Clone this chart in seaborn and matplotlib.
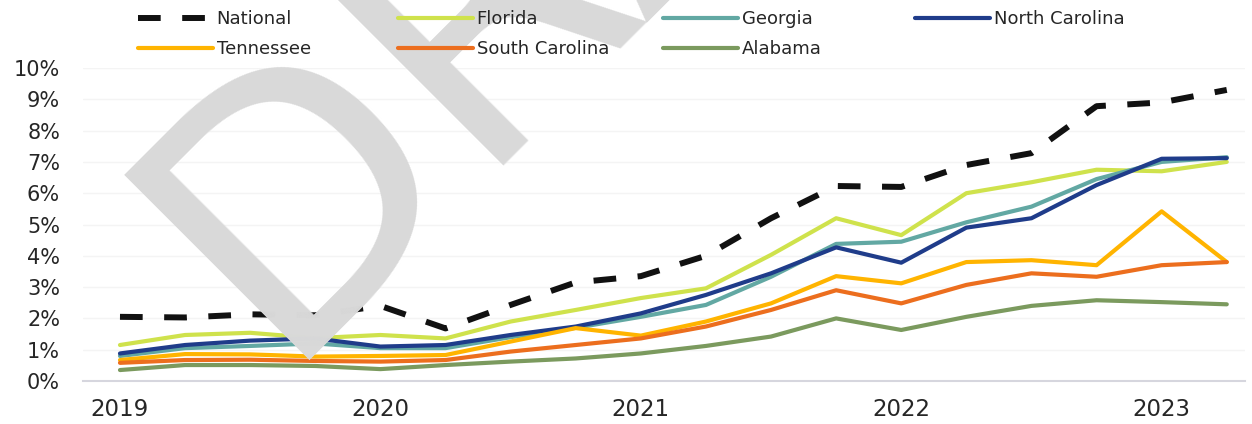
import matplotlib
matplotlib.use("Agg")
import matplotlib.pyplot as plt
import seaborn as sns
import numpy as np
import pandas as pd

# ---------------- data ----------------
quarters = ["2019Q1", "2019Q2", "2019Q3", "2019Q4",
            "2020Q1", "2020Q2", "2020Q3", "2020Q4",
            "2021Q1", "2021Q2", "2021Q3", "2021Q4",
            "2022Q1", "2022Q2", "2022Q3", "2022Q4",
            "2023Q1", "2023Q2"]
year_labels = ["2019", "2020", "2021", "2022", "2023"]

national = [2.05, 2.03, 2.13, 2.10, 2.40, 1.68, 2.43, 3.15, 3.35, 4.00, 5.20, 6.23, 6.20, 6.90, 7.28, 8.78, 8.90, 9.30]
florida = [1.15, 1.47, 1.54, 1.37, 1.47, 1.36, 1.90, 2.27, 2.65, 2.96, 4.03, 5.20, 4.66, 6.00, 6.35, 6.75, 6.70, 7.00]
georgia = [0.80, 1.05, 1.12, 1.20, 1.05, 1.05, 1.40, 1.70, 2.05, 2.43, 3.33, 4.38, 4.45, 5.07, 5.57, 6.45, 7.00, 7.15]
north_carolina = [0.88, 1.15, 1.29, 1.36, 1.10, 1.15, 1.47, 1.74, 2.16, 2.75, 3.44, 4.27, 3.78, 4.90, 5.20, 6.26, 7.10, 7.12]
tennessee = [0.67, 0.86, 0.85, 0.78, 0.80, 0.83, 1.26, 1.69, 1.45, 1.90, 2.48, 3.35, 3.12, 3.80, 3.86, 3.70, 5.42, 3.80]
south_carolina = [0.58, 0.67, 0.68, 0.64, 0.62, 0.67, 0.94, 1.15, 1.36, 1.74, 2.27, 2.90, 2.48, 3.07, 3.44, 3.33, 3.70, 3.80]
alabama = [0.35, 0.51, 0.51, 0.48, 0.38, 0.51, 0.62, 0.72, 0.88, 1.12, 1.42, 2.00, 1.63, 2.05, 2.40, 2.58, 2.52, 2.45]

series_names = ["National", "Florida", "Georgia", "North Carolina",
                "Tennessee", "South Carolina", "Alabama"]
series_values = [national, florida, georgia, north_carolina,
                 tennessee, south_carolina, alabama]
colors = {"National": "#111111", "Florida": "#cfe24c", "Georgia": "#62a8a3",
          "North Carolina": "#1f3c8a", "Tennessee": "#ffb400",
          "South Carolina": "#ec6e1e", "Alabama": "#7b9a5e"}

rows = []
for name, vals in zip(series_names, series_values):
    for i, v in enumerate(vals):
        rows.append({"series": name, "q": i, "quarter": quarters[i], "value": v})
df = pd.DataFrame(rows)

# ---------------- figure ----------------
sns.set_theme(style="white")
plt.rcParams["font.family"] = ["DejaVu Sans"]
text_color = "#262626"

W, H = 1252, 424
fig = plt.figure(figsize=(W / 100, H / 100), dpi=100)
fig.patch.set_facecolor("white")

# watermark
fig.text(275 / W, 1 - 360 / H, "DRAFT", rotation=45, rotation_mode="anchor",
         ha="left", va="baseline", fontsize=258, color="#d9d9d9", zorder=0)

ax_l, ax_r, ax_t, ax_b = 83, 1245, 68, 381
ax = fig.add_axes([ax_l / W, 1 - ax_b / H, (ax_r - ax_l) / W, (ax_b - ax_t) / H])
ax.patch.set_alpha(0)

draw_order = ["Florida", "Georgia", "North Carolina", "Tennessee",
              "South Carolina", "Alabama", "National"]
for name in draw_order:
    sub = df[df["series"] == name]
    if name == "National":
        sns.lineplot(data=sub, x="q", y="value", ax=ax, color=colors[name],
                     lw=4.3, linestyle=(0, (3.8, 3.6)), label=name, zorder=5)
    else:
        sns.lineplot(data=sub, x="q", y="value", ax=ax, color=colors[name],
                     lw=3.0, label=name, zorder=3)

leg = ax.get_legend()
if leg is not None:
    leg.remove()

ax.set_xlim(-0.568, 17.28)
ax.set_ylim(0, 10)
ax.set_yticks(np.arange(0, 11, 1))
ax.set_yticklabels([f"{v}%" for v in range(0, 11)])
ax.set_xticks([0, 4, 8, 12, 16])
ax.set_xticklabels(year_labels)
ax.set_xlabel("")
ax.set_ylabel("")
ax.tick_params(axis="y", length=0, pad=16.5, labelsize=15, labelcolor=text_color)
ax.tick_params(axis="x", length=0, pad=12, labelsize=16.5, labelcolor=text_color)
ax.grid(axis="y", color="#f4f4f4", lw=1)
ax.grid(axis="x", visible=False)
for s in ["left", "right", "top"]:
    ax.spines[s].set_visible(False)
ax.spines["bottom"].set_color("#d6d6de")
ax.spines["bottom"].set_linewidth(1.5)

# legend: four columns placed individually
handles, labels = ax.get_legend_handles_labels()
hmap = dict(zip(labels, handles))
columns = [(["National", "Tennessee"], 138),
           (["Florida", "South Carolina"], 398),
           (["Georgia", "Alabama"], 663),
           (["North Carolina"], 915)]
for names, x0 in columns:
    fig.legend([hmap[n] for n in names], names, loc="upper left",
               bbox_to_anchor=(x0 / W, 1 - 10 / H), frameon=False,
               fontsize=13, handlelength=4.15, handletextpad=0.2,
               labelspacing=0.68, borderpad=0, borderaxespad=0,
               labelcolor=text_color)

fig.savefig("out.png", dpi=100, facecolor="white")
